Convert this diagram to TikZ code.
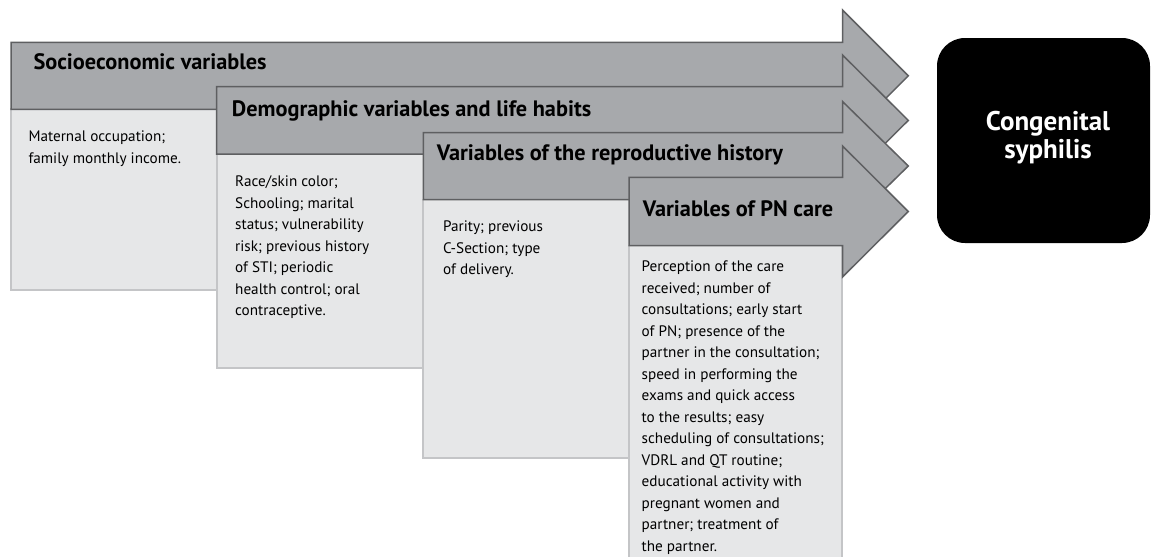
\documentclass[tikz,border=0pt]{standalone}
\usepackage{fontspec}
\setmainfont{PT Sans}
\definecolor{hdrfill}{HTML}{A7A9AC}
\definecolor{hdrline}{HTML}{5E5F61}
\definecolor{bodyfill}{HTML}{E6E7E8}
\definecolor{bodyline}{HTML}{C4C5C7}
\tikzset{
  hdrarrow/.style={fill=hdrfill, draw=hdrline, line width=1.5pt, line join=miter},
  bodybox/.style={fill=bodyfill, draw=bodyline, line width=1.8pt},
  hdrtext/.style={anchor=base west, inner sep=0pt, font=\fontsize{22.3}{26}\selectfont\bfseries},
  bodytext/.style={anchor=base west, inner sep=0pt, font=\fontsize{15.2}{21.5}\selectfont},
  outcome/.style={fill=black, rounded corners=28pt, minimum width=213pt, minimum height=205pt, inner sep=0pt},
  outtext/.style={anchor=base, inner sep=0pt, text=white, font=\fontsize{27}{28}\selectfont\bfseries}
}
\begin{document}
\begin{tikzpicture}[x=1pt,y=-1pt]
\useasboundingbox (0,0) rectangle (1152,557);
% group 1
\draw[bodybox] (11,109.3) rectangle (300,290);
\draw[hdrarrow] (11,42.3) -- (842.5,42.3) -- (842.5,10) -- (908.3,75.8) -- (842.5,141.6) -- (842.5,109.3) -- (11,109.3) -- cycle;
% group 2
\draw[bodybox] (216.7,154) rectangle (480,368);
\draw[hdrarrow] (216.7,86.7) -- (842.5,86.7) -- (842.5,55) -- (908.3,120.4) -- (842.5,185.8) -- (842.5,154) -- (216.7,154) -- cycle;
% group 3
\draw[bodybox] (423.3,199.5) rectangle (700,458);
\draw[hdrarrow] (423.3,132.7) -- (842.5,132.7) -- (842.5,101.5) -- (908.3,166) -- (842.5,230.5) -- (842.5,199.5) -- (423.3,199.5) -- cycle;
% group 4
\draw[bodybox] (629,245.5) rectangle (842,570);
\draw[hdrarrow] (629,177.3) -- (842.5,177.3) -- (842.5,146) -- (908.3,211.5) -- (842.5,277) -- (842.5,245.5) -- (629,245.5) -- cycle;

\node[hdrtext] (h1) at (33.3,69.3) {Socioeconomic variables};
\node[hdrtext] (h2) at (231.7,116.7) {Demographic variables and life habits};
\node[hdrtext] (h3) at (436.7,160.7) {Variables of the reproductive history};
\node[hdrtext] (h4) at (642.7,216) {Variables of PN care};

\node[bodytext] (b1) at (28.3,141.7) {\begin{tabular}[t]{@{}l@{}}Maternal occupation;\\family monthly income.\end{tabular}};
\node[bodytext] (b2) at (235,186.7) {\begin{tabular}[t]{@{}l@{}}Race/skin color;\\Schooling; marital\\status; vulnerability\\risk; previous history\\of STI; periodic\\health control; oral\\contraceptive.\end{tabular}};
\node[bodytext] (b3) at (443,231.7) {\begin{tabular}[t]{@{}l@{}}Parity; previous\\C-Section; type\\of delivery.\end{tabular}};
\node[bodytext] (b4) at (641.5,271.7) {\begin{tabular}[t]{@{}l@{}}Perception of the care\\received; number of\\consultations; early start\\of PN; presence of the\\partner in the consultation;\\speed in performing the\\exams and quick access\\to the results; easy\\scheduling of consultations;\\VDRL and QT routine;\\educational activity with\\pregnant women and\\partner; treatment of\\the partner.\end{tabular}};

\node[outcome] (cs) at (1043.5,140.5) {};
\node[outtext] (cst) at (1048,130) {\begin{tabular}[t]{@{}c@{}}Congenital\\syphilis\end{tabular}};
\end{tikzpicture}
\end{document}
